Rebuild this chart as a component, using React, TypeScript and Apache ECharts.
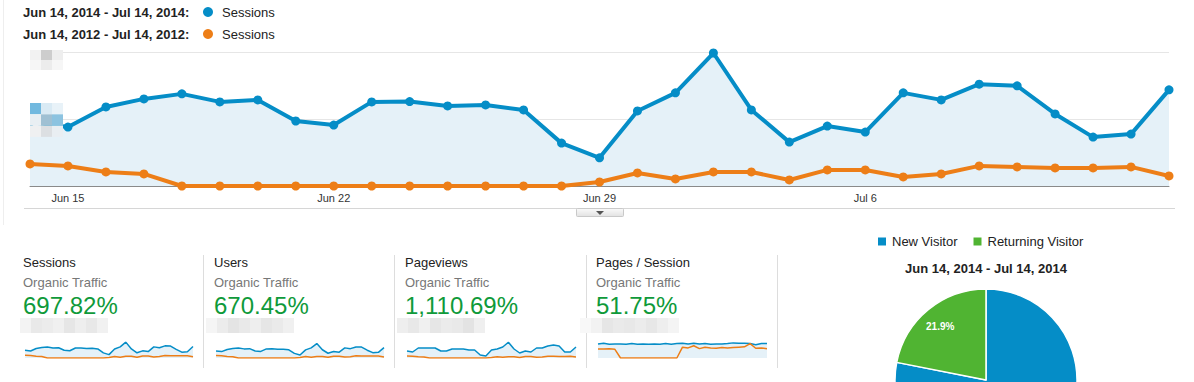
import React, { useEffect, useRef } from "react";
import * as echarts from "echarts";

const dates = [
  "Jun 14", "Jun 15", "Jun 16", "Jun 17", "Jun 18", "Jun 19", "Jun 20", "Jun 21",
  "Jun 22", "Jun 23", "Jun 24", "Jun 25", "Jun 26", "Jun 27", "Jun 28", "Jun 29",
  "Jun 30", "Jul 1", "Jul 2", "Jul 3", "Jul 4", "Jul 5", "Jul 6", "Jul 7",
  "Jul 8", "Jul 9", "Jul 10", "Jul 11", "Jul 12", "Jul 13", "Jul 14",
];
const tickLabels = ["Jun 15", "Jun 22", "Jun 29", "Jul 6"];

const sessions2014 = [191, 176, 236, 260, 275, 251, 257, 194, 182, 251, 252, 239, 242, 227, 128, 84, 224, 278, 397, 227, 131, 179, 161, 278, 257, 304, 299, 215, 146, 155, 287];
const sessions2012 = [66, 60, 42, 36, 0, 0, 0, 0, 0, 0, 0, 0, 0, 0, 0, 12, 39, 21, 42, 42, 18, 48, 48, 27, 36, 60, 57, 54, 54, 57, 30];

const users2014 = [172, 160, 214, 236, 250, 228, 233, 176, 165, 228, 229, 217, 220, 206, 116, 76, 204, 253, 361, 206, 119, 163, 146, 253, 234, 276, 272, 195, 133, 141, 261];
const users2012 = [60, 55, 38, 33, 0, 0, 0, 0, 0, 0, 0, 0, 0, 0, 0, 11, 35, 19, 38, 38, 16, 44, 44, 25, 33, 55, 52, 49, 49, 52, 27];

const pageviews2014 = [525, 450, 750, 750, 750, 750, 525, 525, 675, 675, 675, 600, 600, 225, 150, 600, 675, 825, 1180, 675, 375, 525, 450, 750, 750, 900, 975, 900, 450, 450, 825];
const pageviews2012 = [150, 135, 100, 80, 0, 0, 0, 0, 0, 0, 0, 0, 0, 0, 0, 30, 90, 50, 100, 95, 40, 110, 105, 60, 80, 130, 125, 120, 120, 125, 70];

const pps2014 = [3.9, 4.1, 3.8, 3.9, 3.9, 3.8, 4.0, 3.8, 3.9, 3.8, 3.9, 3.8, 4.0, 3.8, 4.0, 4.1, 3.9, 4.1, 3.9, 4.0, 3.8, 3.9, 3.9, 4.0, 4.2, 4.1, 4.1, 4.0, 3.7, 4.0, 4.0];
const pps2012 = [2.5, 2.5, 2.6, 2.4, 0, 0, 0, 0, 0, 0, 0, 0, 0, 0, 0, 3.0, 2.8, 3.4, 2.6, 3.0, 2.8, 2.7, 2.9, 2.8, 2.9, 3.0, 3.1, 4.0, 2.7, 2.8, 2.6];

const cardTitles = ["Sessions", "Users", "Pageviews", "Pages / Session"];
const cardSubtitle = "Organic Traffic";
const cardValues = ["697.82%", "670.45%", "1,110.69%", "51.75%"];

const visitorTypes = ["New Visitor", "Returning Visitor"];
const visitorShares = [78.1, 21.9];

const range2014 = "Jun 14, 2014 - Jul 14, 2014";
const range2012 = "Jun 14, 2012 - Jul 14, 2012";
const seriesName = "Sessions";

const BLUE = "#058dc7";
const ORANGE = "#ed7e17";
const GREEN = "#50b432";
const AREA = "#e5f1f8";
const FONT = "'Liberation Sans', Arial, Helvetica, sans-serif";

function blurBlock(x0: number, y0: number, cw: number, ch: number, colors: string[][]) {
  const out: any[] = [];
  colors.forEach((row, r) =>
    row.forEach((c, k) => {
      out.push({
        type: "rect",
        z: 50,
        shape: { x: x0 + k * cw, y: y0 + r * ch, width: cw, height: ch },
        style: { fill: c },
      });
    })
  );
  return out;
}

export default function App() {
  const ref = useRef<HTMLDivElement>(null);

  useEffect(() => {
    if (!ref.current) return;
    const chart = echarts.init(ref.current, undefined, { renderer: "svg" });

    const cardLefts = [23, 214, 405, 596];
    const sparkGrids = [
      { left: 25, top: 342, width: 168, height: 16 },
      { left: 216, top: 342, width: 168, height: 16 },
      { left: 407, top: 342, width: 169, height: 16 },
      { left: 598, top: 340, width: 169, height: 18 },
    ];
    const sparkMax = [400, 400, 1200, 5];
    const sparkData = [
      [sessions2014, sessions2012],
      [users2014, users2012],
      [pageviews2014, pageviews2012],
      [pps2014, pps2012],
    ];

    const grids: any[] = [{ left: 30, top: 52, width: 1139, height: 134 }, ...sparkGrids];

    const xAxes: any[] = [
      {
        type: "category",
        gridIndex: 0,
        data: dates,
        boundaryGap: false,
        axisLine: { lineStyle: { color: "#8a8a8a", width: 1 } },
        axisTick: { show: false },
        axisLabel: {
          margin: 6,
          fontSize: 11,
          color: "#333",
          fontFamily: FONT,
          interval: (i: number, v: string) => tickLabels.indexOf(v) >= 0,
        },
        splitLine: { show: false },
      },
    ];
    const yAxes: any[] = [
      {
        type: "value",
        gridIndex: 0,
        min: 0,
        max: 400,
        interval: 200,
        axisLabel: { show: false },
        axisLine: { show: false },
        axisTick: { show: false },
        splitLine: { lineStyle: { color: "#e6e6e6", width: 1 } },
      },
    ];
    const series: any[] = [
      {
        type: "line",
        name: seriesName,
        xAxisIndex: 0,
        yAxisIndex: 0,
        data: sessions2014,
        symbol: "circle",
        symbolSize: 9,
        lineStyle: { color: BLUE, width: 4 },
        itemStyle: { color: BLUE },
        areaStyle: { color: AREA, opacity: 1 },
        z: 3,
      },
      {
        type: "line",
        name: seriesName + " 2012",
        xAxisIndex: 0,
        yAxisIndex: 0,
        data: sessions2012,
        symbol: "circle",
        symbolSize: 9,
        lineStyle: { color: ORANGE, width: 4 },
        itemStyle: { color: ORANGE },
        z: 4,
      },
    ];

    sparkData.forEach((pair, i) => {
      const gi = i + 1;
      xAxes.push({ type: "category", gridIndex: gi, data: dates, boundaryGap: false, show: false });
      yAxes.push({ type: "value", gridIndex: gi, min: 0, max: sparkMax[i], show: false, splitLine: { show: false } });
      series.push({
        type: "line",
        xAxisIndex: gi,
        yAxisIndex: gi,
        data: pair[0],
        symbol: "none",
        lineStyle: { color: BLUE, width: 1.5 },
        areaStyle: { color: AREA, opacity: 1 },
        z: 3,
      });
      series.push({
        type: "line",
        xAxisIndex: gi,
        yAxisIndex: gi,
        data: pair[1],
        symbol: "none",
        lineStyle: { color: ORANGE, width: 1.5 },
        z: 4,
      });
    });

    series.push({
      type: "pie",
      center: [986, 380],
      radius: 91,
      startAngle: 90,
      clockwise: true,
      data: visitorTypes.map((n, i) => ({
        name: n,
        value: visitorShares[i],
        label: i === 0 ? { show: false } : undefined,
      })),
      itemStyle: { borderColor: "#fff", borderWidth: 1.5 },
      label: {
        position: "inside",
        formatter: (p: any) => p.value + "%",
        color: "#fff",
        fontSize: 10,
        fontWeight: "bold",
        fontFamily: FONT,
      },
      labelLayout: { dx: -15, dy: -16 },
      emphasis: { disabled: true },
      color: [BLUE, GREEN],
    });

    const g: any[] = [];
    g.push({ type: "line", shape: { x1: 3.5, y1: 0, x2: 3.5, y2: 225 }, style: { stroke: "#eeeeee", lineWidth: 1 } });
    [
      { y: 12, label: range2014, color: BLUE },
      { y: 34, label: range2012, color: ORANGE },
    ].forEach((row) => {
      g.push({ type: "text", x: 23, y: row.y, style: { text: row.label + ":", font: `bold 13px ${FONT}`, fill: "#222", textVerticalAlign: "middle" } });
      g.push({ type: "circle", shape: { cx: 208, cy: row.y, r: 5 }, style: { fill: row.color } });
      g.push({ type: "text", x: 222, y: row.y, style: { text: seriesName, font: `13px ${FONT}`, fill: "#222", textVerticalAlign: "middle" } });
    });

    g.push({ type: "rect", z: 49, shape: { x: 22, y: 100, width: 8, height: 40 }, style: { fill: "#ffffff" } });
    g.push(...blurBlock(30, 50, 11, 10, [["#f2f2f2", "#cdcdcd", "#eeeeee"], ["#f6f6f6", "#ececec", "#f6f6f6"]]));
    g.push(...blurBlock(30, 103, 11, 11.3, [["#72b9df", "#d9eaf4", "#e8f2f8"], ["#e9eff3", "#9fc0d3", "#8cc3e0"], ["#eff0f1", "#dcdfe2", "#e9eef2"]]));

    g.push({ type: "line", shape: { x1: 24, y1: 208.5, x2: 1175, y2: 208.5 }, style: { stroke: "#d6d6d6", lineWidth: 1 } });
    g.push({
      type: "rect",
      shape: { x: 576.5, y: 208.5, width: 47, height: 8, r: 1 },
      style: {
        fill: new echarts.graphic.LinearGradient(0, 0, 0, 1, [
          { offset: 0, color: "#fafafa" },
          { offset: 1, color: "#e2e2e2" },
        ]),
        stroke: "#c9c9c9",
        lineWidth: 1,
      },
    });
    g.push({ type: "polygon", shape: { points: [[596, 211], [604, 211], [600, 215]] }, style: { fill: "#555" } });

    const blurCards = [
      { x: 20, colors: ["#f3f3f3", "#e9e9e9", "#ececec", "#f0f0f0", "#e6e6e6", "#eeeeee", "#e8e8e8", "#f1f1f1"] },
      { x: 206, colors: ["#f5f5f5", "#ececec", "#e4e4e4", "#e9e9e9", "#eeeeee", "#e6e6e6", "#eaeaea", "#f0f0f0"] },
      { x: 397, colors: ["#eeeeee", "#e8e8e8", "#f0f0f0", "#e6e6e6", "#ebebeb", "#e9e9e9", "#e3e3e3", "#efefef"] },
      { x: 580, colors: ["#f8f8f8", "#f2f2f2", "#e6e6e6", "#eaeaea", "#e8e8e8", "#ececec", "#e7e7e7", "#eeeeee", "#f4f4f4"] },
    ];
    blurCards.forEach((b) => g.push(...blurBlock(b.x, 318, 11, 15, [b.colors])));

    cardLefts.forEach((x, i) => {
      g.push({ type: "text", x, y: 262, style: { text: cardTitles[i], font: `13px ${FONT}`, fill: "#222", textVerticalAlign: "middle" } });
      g.push({ type: "text", x, y: 282, style: { text: cardSubtitle, font: `13px ${FONT}`, fill: "#777", textVerticalAlign: "middle" } });
      g.push({ type: "text", x, y: 305, style: { text: cardValues[i], font: `24px ${FONT}`, fill: "#0f9a3a", textVerticalAlign: "middle" } });
    });
    [203.5, 394.5, 586.5, 777.5].forEach((x) =>
      g.push({ type: "line", shape: { x1: x, y1: 255, x2: x, y2: 368 }, style: { stroke: "#dddddd", lineWidth: 1 } })
    );

    g.push({
      type: "text",
      x: 986,
      y: 268,
      style: { text: range2014, font: `bold 13px ${FONT}`, fill: "#222", textAlign: "center", textVerticalAlign: "middle" },
    });

    chart.setOption({
      animation: false,
      backgroundColor: "#ffffff",
      grid: grids,
      xAxis: xAxes,
      yAxis: yAxes,
      legend: {
        data: visitorTypes,
        left: 876,
        top: 235,
        padding: 0,
        icon: "rect",
        itemWidth: 10,
        itemHeight: 10,
        itemGap: 14,
        selectedMode: false,
        textStyle: { fontSize: 13, color: "#222", fontFamily: FONT },
      },
      series,
      graphic: { elements: g },
    });

    return () => chart.dispose();
  }, []);

  return (
    <div
      ref={ref}
      style={{ position: "fixed", left: 0, top: 0, width: 1194, height: 382, background: "#fff" }}
    />
  );
}
